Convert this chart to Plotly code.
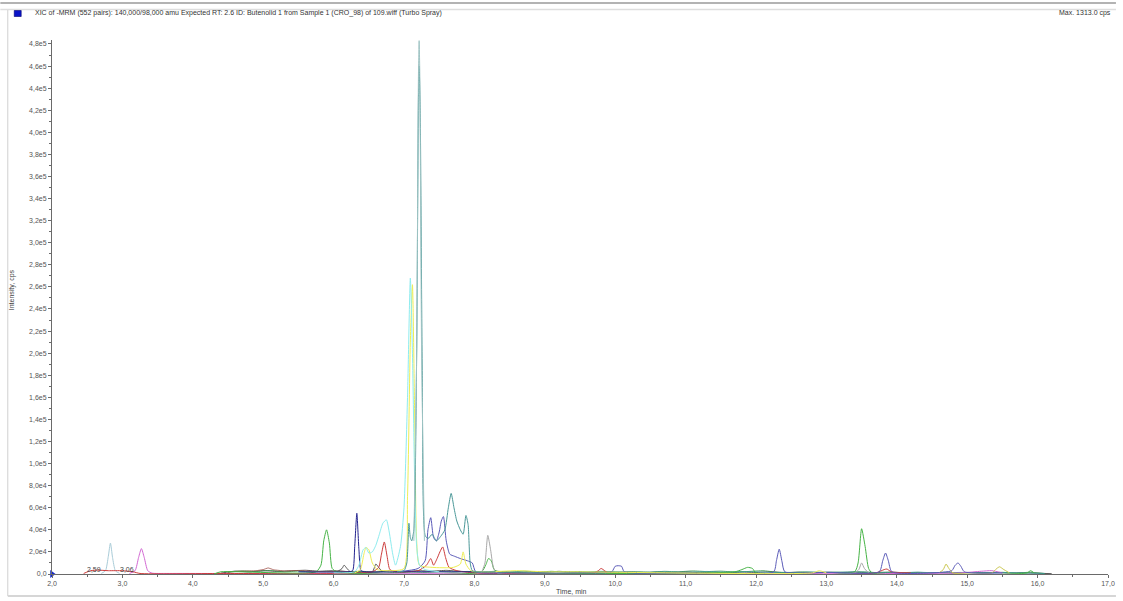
import plotly.graph_objects as go

# ---------------- chromatogram traces (time in min, intensity in kcps) ----------------
time_range = [2.0, 17.0]
intensity_top = 483.6  # kcps

ltblue_t = [2.70, 2.76, 2.80, 2.83, 2.86, 2.90, 2.96]
ltblue_k = [0.5, 3, 16, 28, 15, 3, 0.5]

magenta_t = [3.10, 3.18, 3.23, 3.27, 3.31, 3.36, 3.42, 3.60, 3.76, 14.9, 15.2, 15.35, 15.5]
magenta_k = [0.5, 3, 15, 23, 15, 3, 0.8, 0.5, 0.5, 1, 2.5, 3, 1]

red_t = [2.45, 2.55, 2.65, 2.80, 3.00, 3.15, 3.25, 4.40, 6.55, 6.64, 6.68, 6.72, 6.76, 6.80, 6.90,
         7.20, 7.32, 7.38, 7.42, 7.47, 7.51, 7.55, 7.59, 7.64, 7.75, 8.00, 9.70, 9.76, 9.80, 9.85,
         9.90, 13.70, 13.82, 13.86, 13.92, 14.20]
red_k = [0.5, 3, 3.5, 3, 3, 2, 0.5, 0.5, 2, 6, 18, 29, 16, 4, 2,
         3, 8, 14, 8, 14, 20, 24.5, 15, 6, 3, 1, 1, 3, 5, 3,
         1, 1, 4, 4.5, 2, 1]

black_t = [4.4, 4.6, 4.8, 5.0, 5.2, 5.4, 5.6, 5.8, 6.0, 6.2,
           6.4, 6.6, 6.8, 7.0, 7.2, 7.4, 7.6, 7.8, 8.0, 8.2,
           8.4, 8.6, 8.8, 9.0, 9.2, 9.4, 9.6, 9.8, 10.0, 10.2,
           10.4, 10.6, 10.8, 11.0, 11.2, 11.4, 11.6, 11.8, 12.0, 12.2,
           12.4, 12.6, 12.8, 13.0, 13.2, 13.4, 13.6, 13.8, 14.0, 14.2,
           14.4, 14.6, 14.8, 15.0, 15.2, 15.4, 15.6, 15.8, 16.0, 16.2]
black_k = [0.8, 2.6, 1.9, 3.1, 2.3, 2.9, 3.4, 2.5, 3.0, 2.2,
           2.4, 1.8, 2.9, 2.2, 3.0, 2.6, 3.3, 2.4, 1.8, 1.4,
           1.9, 1.2, 2.1, 1.5, 2.4, 1.7, 1.3, 2.0, 1.4, 1.8,
           1.1, 1.7, 1.3, 1.9, 1.2, 1.6, 1.1, 1.8, 1.4, 2.0,
           1.2, 1.6, 1.0, 1.5, 1.3, 1.7, 1.1, 1.4, 1.0, 1.3,
           0.9, 1.2, 0.8, 1.4, 1.0, 1.2, 0.9, 1.1, 0.7, 0.3]

dkgreen_t = [4.5, 4.7, 4.9, 5.1, 5.3, 5.5, 5.7, 5.9, 6.1, 6.3,
             6.5, 6.7, 6.9, 7.1, 7.3, 7.5, 7.7, 7.9, 8.1, 8.3,
             8.5, 8.7, 8.9, 9.1, 9.3, 9.5, 9.7, 9.9, 10.1, 10.3,
             10.5, 10.7, 10.9, 11.1, 11.3, 11.5, 11.7, 11.9, 12.1, 12.3,
             12.5, 12.7, 12.9, 13.1, 13.3, 13.5, 13.7, 13.9, 14.1, 14.3,
             14.5, 14.7, 14.9, 15.1, 15.3, 15.5, 15.7, 15.9, 16.1]
dkgreen_k = [1.5, 2.8, 2.2, 3.2, 2.0, 2.6, 1.8, 2.4, 1.6, 2.2,
             1.4, 2.0, 1.2, 1.8, 1.5, 2.1, 1.7, 2.3, 1.6, 2.5,
             1.8, 2.6, 1.9, 2.4, 1.6, 2.2, 1.4, 1.9, 1.5, 2.1,
             1.7, 2.4, 2.0, 2.8, 2.2, 2.6, 1.8, 2.3, 3.0, 1.6,
             1.4, 1.9, 1.2, 1.7, 1.5, 2.0, 1.3, 1.8, 1.2, 1.5,
             1.1, 1.6, 1.0, 1.4, 1.2, 1.5, 0.9, 1.6, 0.4]

brown_t = [4.5, 4.7, 4.9, 5.0, 5.07, 5.15, 5.3, 5.5, 5.7, 5.9, 6.1, 6.3]
brown_k = [2.0, 2.6, 3.0, 4.0, 5.5, 3.8, 2.8, 3.2, 2.4, 2.0, 2.6, 1.5]

tealnoise_t = [8.3, 8.6, 8.9, 9.2, 9.5, 9.8, 10.1, 10.4, 10.7, 11.0, 11.3, 11.6, 11.9, 12.2,
               12.5, 12.8, 13.1, 13.4, 13.7, 14.0, 14.3, 14.6, 14.9, 15.2, 15.5, 15.8, 16.1]
tealnoise_k = [1.2, 2.0, 1.5, 2.2, 1.6, 2.4, 1.8, 1.4, 2.0, 1.6, 2.3, 1.7, 2.1, 1.5,
               1.2, 1.8, 1.4, 1.9, 1.3, 1.1, 1.6, 1.0, 1.4, 1.1, 1.3, 0.9, 0.5]

dark_t = [6.05, 6.12, 6.15, 6.19, 6.24, 6.55, 6.60, 6.64, 6.69]
dark_k = [2, 5, 8, 5, 2, 2, 9, 6, 2]

green_t = [4.30, 4.40, 5.75, 5.82, 5.86, 5.90, 5.94, 5.98, 6.05, 8.10, 8.16, 8.20, 8.24, 8.28, 8.35,
           11.70, 11.80, 11.88, 11.95, 12.00, 13.40, 13.45, 13.50, 13.55, 13.60, 13.65, 15.85, 15.90, 15.95]
green_k = [0, 2, 2, 8, 30, 40, 28, 5, 2, 2, 8, 14, 12, 4, 2,
           2, 4, 6, 5, 1, 2, 10, 41, 25, 5, 1, 1, 3, 1]

grey_t = [8.10, 8.15, 8.19, 8.23, 8.27, 8.32, 13.40, 13.46, 13.50, 13.54, 13.60]
grey_k = [1, 10, 35, 22, 6, 1, 1, 4, 10, 5, 1]

olive_t = [14.60, 14.66, 14.70, 14.74, 14.80, 15.35, 15.42, 15.46, 15.52, 15.60]
olive_k = [1, 4, 9, 5, 1, 1, 5, 6.5, 4, 1]

navy_t = [5.5, 6.20, 6.27, 6.30, 6.33, 6.36, 6.39, 6.45, 7.0, 7.5, 8.0]
navy_k = [2, 2, 3, 25, 55, 22, 3, 2, 2, 2, 2]

purple_t = [6.90, 7.20, 7.30, 7.34, 7.38, 7.42, 7.46, 7.50, 7.53, 7.56, 7.60, 7.65, 7.72, 7.80, 7.90,
            7.97, 8.02, 8.50, 9.50, 9.95, 10.00, 10.04, 10.09, 10.13, 11.00, 12.25, 12.29, 12.33,
            12.37, 12.41, 13.00, 13.75, 13.80, 13.84, 13.88, 13.93, 14.50, 14.78, 14.83, 14.87,
            14.91, 14.96, 15.50]
purple_k = [2, 5, 12, 40, 51, 33, 30, 38, 48, 52, 30, 18, 16, 14, 12,
            10, 2, 1, 1, 2, 7, 7.5, 7, 2, 1, 2, 12, 22.5,
            11, 2, 1.5, 2, 12, 19, 12, 2, 1, 3, 8, 10,
            7, 2, 1]

yellow_t = [6.30, 6.38, 6.43, 6.46, 6.50, 6.55, 6.62, 6.80, 7.00, 7.05, 7.09, 7.12, 7.15, 7.18, 7.22,
            7.40, 7.70, 7.80, 7.84, 7.88, 7.95, 8.20, 8.60, 9.00, 9.40, 12.8, 12.9, 13.0]
yellow_k = [1, 4, 18, 24, 22, 10, 4, 3, 5, 70, 210, 262, 150, 30, 8,
            6, 6, 9, 20, 9, 3, 2, 3, 2, 2, 1, 3, 1]

cyan_t = [6.00, 6.30, 6.36, 6.42, 6.46, 6.50, 6.55, 6.60, 6.65, 6.70, 6.75, 6.79, 6.84, 6.88,
          6.95, 7.00, 7.05, 7.09, 7.12, 7.15, 7.18, 7.22, 7.30, 7.50]
cyan_k = [1, 2, 8, 22, 24, 19, 20, 26, 36, 46, 49, 38, 18, 8,
          25, 60, 160, 268, 200, 90, 25, 8, 4, 2]

teal_t = [6.90, 7.00, 7.04, 7.07, 7.09, 7.11, 7.14, 7.18, 7.205, 7.215, 7.23, 7.26, 7.30, 7.34,
          7.40, 7.46, 7.52, 7.58, 7.63, 7.67, 7.71, 7.75, 7.80, 7.84, 7.88, 7.91, 7.94, 7.97, 8.05, 8.30]
teal_k = [2, 3, 10, 46, 33, 30, 40, 200, 430, 460, 420, 180, 35, 32,
          36, 30, 34, 40, 60, 73, 60, 48, 40, 36, 53, 45, 10, 3, 2, 2]

apex_t = [7.14, 7.18, 7.205, 7.215, 7.225, 7.25, 7.29]
apex_k = [30, 200, 450, 483, 450, 200, 30]

peak_labels = ["2,59", "3,06"]
peak_label_t = [2.59, 3.06]

x_tickvals = [2, 3, 4, 5, 6, 7, 8, 9, 10, 11, 12, 13, 14, 15, 16, 17]
x_ticktext = ["2,0", "3,0", "4,0", "5,0", "6,0", "7,0", "8,0", "9,0", "10,0", "11,0",
              "12,0", "13,0", "14,0", "15,0", "16,0", "17,0"]
y_tickvals_k = [0, 20, 40, 60, 80, 100, 120, 140, 160, 180, 200, 220, 240,
                260, 280, 300, 320, 340, 360, 380, 400, 420, 440, 460, 480]
y_ticktext = ["0,0", "2,0e4", "4,0e4", "6,0e4", "8,0e4", "1,0e5", "1,2e5", "1,4e5", "1,6e5",
              "1,8e5", "2,0e5", "2,2e5", "2,4e5", "2,6e5", "2,8e5", "3,0e5", "3,2e5", "3,4e5",
              "3,6e5", "3,8e5", "4,0e5", "4,2e5", "4,4e5", "4,6e5", "4,8e5"]

header = ("XIC of -MRM (552 pairs): 140,000/98,000 amu Expected RT: 2.6 ID: Butenolid 1 "
          "from Sample 1 (CRO_98) of 109.wiff (Turbo Spray)")
max_text = "Max. 1313.0 cps"

# ---------------- figure ----------------
W, H = 1123, 601
ML, MR, MT, MB = 52, 8, 40, 27
PW, PH = W - ML - MR, H - MT - MB
FONT = "Liberation Sans, Arial, sans-serif"


def px(x):
    return (x - ML) / PW


def py(y):
    return (H - MB - y) / PH


fig = go.Figure()


def add(t, k, color, width=1.0, smooth=0.6):
    fig.add_trace(go.Scatter(
        x=t, y=[v * 1000 for v in k], mode="lines",
        line=dict(color=color, width=width, shape="spline", smoothing=smooth),
        hoverinfo="skip", showlegend=False))


add(black_t, black_k, "#2a2a2a", 0.8, 0.3)
add(dkgreen_t, dkgreen_k, "#2f8a40", 0.8, 0.3)
add(tealnoise_t, tealnoise_k, "#3c9c9c", 0.8, 0.3)
add(brown_t, brown_k, "#a0524a", 0.8, 0.3)
add(dark_t, dark_k, "#555555")
add(ltblue_t, ltblue_k, "#a9ccd8")
add(magenta_t, magenta_k, "#d266d2")
add(red_t, red_k, "#cc3a3a")
add(green_t, green_k, "#46b446")
add(grey_t, grey_k, "#a8a8a8")
add(olive_t, olive_k, "#c9c64a")
add(navy_t, navy_k, "#23238f")
add(purple_t, purple_k, "#5a5ab8")
add(yellow_t, yellow_k, "#eeee55")
add(cyan_t, cyan_k, "#8eecef")
add(teal_t, teal_k, "#4a9898")
add(apex_t, apex_k, "#9fc4c4")

# start-of-axis marker
fig.add_trace(go.Scatter(
    x=[time_range[0]], y=[0], mode="markers",
    marker=dict(symbol="triangle-right", size=7, color="#1428c8"),
    cliponaxis=False, hoverinfo="skip", showlegend=False))

annotations = []
for lab, t in zip(peak_labels, peak_label_t):
    annotations.append(dict(x=t, y=4500, xref="x", yref="y", text=lab, showarrow=False,
                            font=dict(family=FONT, size=7, color="#444"),
                            xanchor="center", yanchor="middle"))

annotations += [
    dict(x=px(33), y=py(13.5), xref="paper", yref="paper", text=header, showarrow=False,
         xanchor="left", yanchor="middle", font=dict(family=FONT, size=7, color="#333")),
    dict(x=px(1120), y=py(13.5), xref="paper", yref="paper", text=max_text, showarrow=False,
         xanchor="right", yanchor="middle", font=dict(family=FONT, size=7, color="#333")),
    dict(x=px(12), y=py(290), xref="paper", yref="paper", text="Intensity, cps", showarrow=False,
         textangle=-90, xanchor="center", yanchor="middle",
         font=dict(family=FONT, size=7, color="#444")),
    dict(x=px(575), y=py(591), xref="paper", yref="paper", text="Time, min", showarrow=False,
         xanchor="center", yanchor="middle", font=dict(family=FONT, size=7, color="#444")),
]

shapes = [
    # top separator lines
    dict(type="line", xref="paper", yref="paper", x0=px(0), x1=px(W), y0=py(3), y1=py(3),
         line=dict(color="#9a9a9a", width=1.5)),
    dict(type="line", xref="paper", yref="paper", x0=px(0), x1=px(W), y0=py(9.5), y1=py(9.5),
         line=dict(color="#dedede", width=1.5)),
    # panel frame
    dict(type="line", xref="paper", yref="paper", x0=px(7.5), x1=px(7.5), y0=py(10), y1=py(596),
         line=dict(color="#d0d0d0", width=1)),
    dict(type="line", xref="paper", yref="paper", x0=px(7.5), x1=px(W), y0=py(596), y1=py(596),
         line=dict(color="#d6d6d6", width=2)),
    # title-bar colour box
    dict(type="rect", xref="paper", yref="paper", x0=px(14), x1=px(21), y0=py(16.5), y1=py(10.5),
         fillcolor="#0a14c8", line=dict(color="#000070", width=0.6)),
]

tick_font = dict(family=FONT, size=7, color="#555")
fig.update_layout(
    width=W, height=H,
    margin=dict(l=ML, r=MR, t=MT, b=MB, pad=0),
    paper_bgcolor="white", plot_bgcolor="white",
    annotations=annotations, shapes=shapes,
    xaxis=dict(range=time_range, showgrid=False, zeroline=False, showline=True,
               linecolor="#6a6a6a", linewidth=1, ticks="outside", ticklen=3, tickcolor="#6a6a6a",
               tickmode="array", tickvals=x_tickvals, ticktext=x_ticktext, tickfont=tick_font,
               minor=dict(tickmode="linear", tick0=2.5, dtick=1, ticks="outside", ticklen=2,
                          tickcolor="#6a6a6a")),
    yaxis=dict(range=[0, intensity_top * 1000], showgrid=False, zeroline=False, showline=True,
               linecolor="#6a6a6a", linewidth=1, ticks="outside", ticklen=3, tickcolor="#6a6a6a",
               tickmode="array", tickvals=[v * 1000 for v in y_tickvals_k], ticktext=y_ticktext,
               tickfont=tick_font,
               minor=dict(tickmode="linear", tick0=10000, dtick=20000, ticks="outside", ticklen=2,
                          tickcolor="#6a6a6a")),
)

fig.write_html("out.html")
